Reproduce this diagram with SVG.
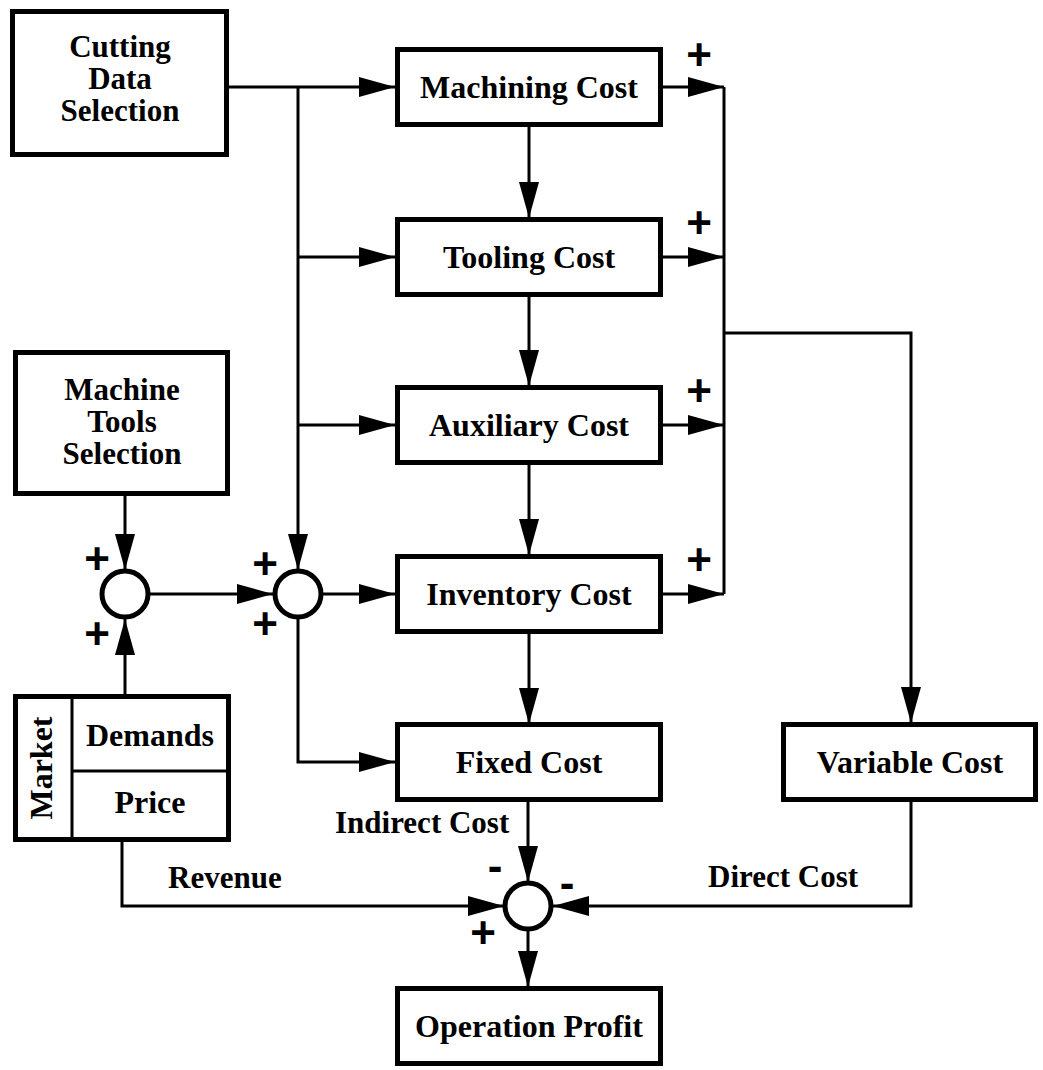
<svg xmlns="http://www.w3.org/2000/svg" width="1043" height="1070" viewBox="0 0 1043 1070">
<style>
.box{fill:#fff;stroke:#000;stroke-width:5}
.div{fill:none;stroke:#000;stroke-width:3}
.sum{fill:#fff;stroke:#000;stroke-width:5}
.t{font-family:"Liberation Serif","Times New Roman",serif;font-weight:bold;font-size:32px;fill:#000;text-anchor:middle}
.m{font-family:"Liberation Serif","Times New Roman",serif;font-weight:bold;font-size:31px;fill:#000;text-anchor:middle}
.l{font-family:"Liberation Serif","Times New Roman",serif;font-weight:bold;font-size:31px;fill:#000}
.s{font-family:"Liberation Sans",Arial,sans-serif;font-weight:bold;font-size:44px;fill:#000;text-anchor:middle}
.c{fill:none;stroke:#000;stroke-width:3}
.a{marker-end:url(#ah)}
</style>
<defs>
<marker id="ah" markerUnits="userSpaceOnUse" markerWidth="36" markerHeight="20" refX="36" refY="10" orient="auto">
<path d="M0,0 L36,10 L0,20 z" fill="#000"/>
</marker>
</defs>
<g id="connectors">
<path class="c a" d="M229,87 H395"/>
<path class="c" d="M298,87 V257"/>
<path class="c a" d="M298,257 H395"/>
<path class="c a" d="M298,425 H395"/>
<path class="c a" d="M298,257 V570"/>
<path class="c a" d="M529,126 V218"/>
<path class="c a" d="M529,295 V386"/>
<path class="c a" d="M529,462 V555"/>
<path class="c a" d="M529,631 V724"/>
<path class="c a" d="M663,87 H724"/>
<path class="c a" d="M663,257 H724"/>
<path class="c a" d="M663,425 H724"/>
<path class="c a" d="M663,594 H724"/>
<path class="c" d="M724,87 V594"/>
<path class="c a" d="M724,333 H911 V723"/>
<path class="c a" d="M125,496 V570"/>
<path class="c a" d="M125,694 V619"/>
<path class="c a" d="M150,594 H273"/>
<path class="c a" d="M323,594 H395"/>
<path class="c a" d="M298,619 V762 H395"/>
<path class="c a" d="M122,842 V906 H504"/>
<path class="c a" d="M911,800 V906 H553"/>
<path class="c a" d="M528,801 V882"/>
<path class="c a" d="M528,930 V987"/>
</g>
<g id="cutting-data-selection">
<rect class="box" x="12.5" y="11.5" width="214" height="143"/>
<text class="m" x="120" y="57">Cutting</text>
<text class="m" x="120" y="89">Data</text>
<text class="m" x="120" y="121">Selection</text>
</g>
<g id="machining-cost">
<rect class="box" x="397.5" y="49.5" width="263" height="75"/>
<text class="t" x="529" y="98">Machining Cost</text>
</g>
<g id="tooling-cost">
<rect class="box" x="397.5" y="219.5" width="263" height="75"/>
<text class="t" x="529" y="268">Tooling Cost</text>
</g>
<g id="auxiliary-cost">
<rect class="box" x="397.5" y="387.5" width="263" height="75"/>
<text class="t" x="529" y="436">Auxiliary Cost</text>
</g>
<g id="inventory-cost">
<rect class="box" x="397.5" y="556.5" width="263" height="75"/>
<text class="t" x="529" y="605">Inventory Cost</text>
</g>
<g id="fixed-cost">
<rect class="box" x="397.5" y="724.5" width="263" height="75"/>
<text class="t" x="529" y="773">Fixed Cost</text>
</g>
<g id="variable-cost">
<rect class="box" x="783.5" y="724.5" width="252" height="75"/>
<text class="t" x="910" y="773">Variable Cost</text>
</g>
<g id="operation-profit">
<rect class="box" x="397.5" y="988.5" width="263" height="75"/>
<text class="t" x="529" y="1037">Operation Profit</text>
</g>
<g id="machine-tools-selection">
<rect class="box" x="15.5" y="352.5" width="212" height="141"/>
<text class="m" x="122" y="400">Machine</text>
<text class="m" x="122" y="432">Tools</text>
<text class="m" x="122" y="464">Selection</text>
</g>
<g id="market">
<rect class="box" x="15.5" y="696.5" width="213" height="143"/>
<path class="div" d="M72,697 V839 M72,771 H228"/>
<text class="t" transform="translate(52,768) rotate(-90)">Market</text>
<text class="t" x="150" y="746">Demands</text>
<text class="t" x="150" y="813">Price</text>
</g>
<g id="sum1">
<circle class="sum" cx="125" cy="594" r="23"/>
<text class="s" x="97" y="574">+</text>
<text class="s" x="97" y="649">+</text>
</g>
<g id="sum2">
<circle class="sum" cx="298" cy="594" r="23"/>
<text class="s" x="265" y="579">+</text>
<text class="s" x="265" y="639">+</text>
</g>
<g id="sum3">
<circle class="sum" cx="528" cy="906" r="23"/>
<text class="s" x="495" y="881">-</text>
<text class="s" x="567" y="898">-</text>
<text class="s" x="483" y="948">+</text>
</g>
<g id="bus-signs">
<text class="s" x="699" y="70">+</text>
<text class="s" x="699" y="238">+</text>
<text class="s" x="699" y="406">+</text>
<text class="s" x="699" y="575">+</text>
</g>
<g id="labels">
<text class="l" x="335" y="833">Indirect Cost</text>
<text class="l" x="168" y="888">Revenue</text>
<text class="l" x="708" y="887">Direct Cost</text>
</g>
</svg>
